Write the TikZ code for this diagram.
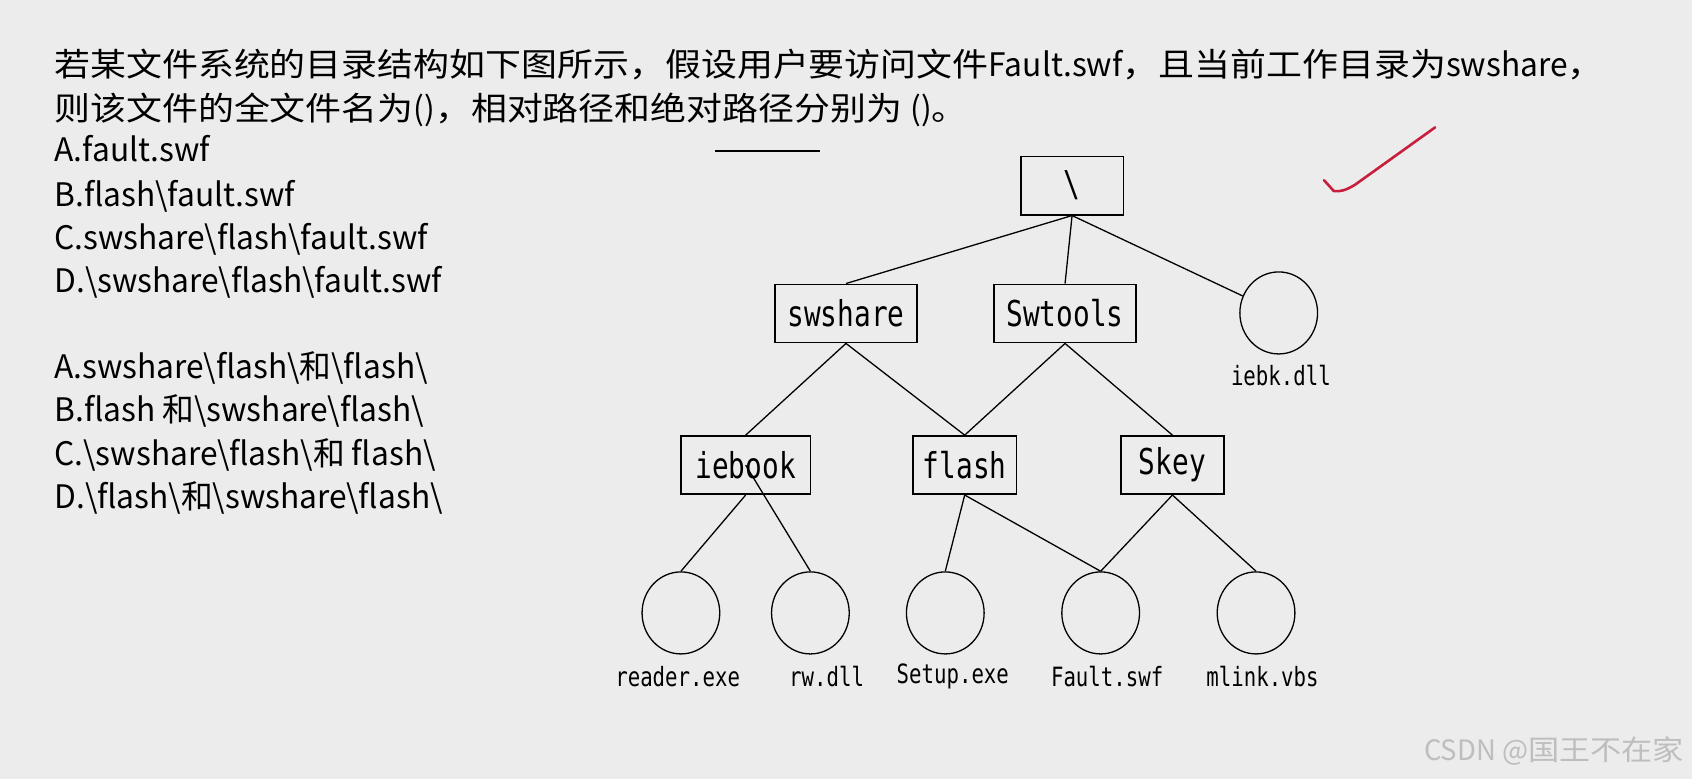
\documentclass[tikz,border=0pt]{standalone}
\usepackage{fontspec}
\usetikzlibrary{shapes.geometric}
\newfontfamily\qfont[FakeStretch=1.11]{Noto Sans CJK SC}
\newfontfamily\latfont[FakeStretch=0.98]{Noto Sans CJK SC}
\newfontfamily\treefont[FakeStretch=0.78]{DejaVu Sans Mono}
\definecolor{bgpaper}{RGB}{236,236,236}
\definecolor{tickred}{RGB}{200,30,60}
\definecolor{markgray}{RGB}{190,190,190}
\newcommand\lat[1]{{\latfont #1}}
\begin{document}
\begin{tikzpicture}[x=0.5pt,y=-0.5pt,
    qtext/.style={anchor=base west,inner sep=0pt,font=\qfont\fontsize{15}{18}\selectfont},
    opttext/.style={anchor=base west,inner sep=0pt,font=\latfont\fontsize{15}{18}\selectfont},
    dirbox/.style={draw,line width=0.75pt,inner sep=0pt,minimum height=27pt,font=\treefont\fontsize{16.5}{18}\selectfont},
    filenode/.style={draw,ellipse,line width=0.6pt,minimum width=36pt,minimum height=38pt,inner sep=0pt},
    fname/.style={inner sep=0pt,font=\treefont\fontsize{12.3}{14}\selectfont},
    edge/.style={line width=0.6pt}]
  \fill[bgpaper] (0,0) rectangle (1568,722);
  \useasboundingbox (0,0) rectangle (1568,722);
  % question
  \node[qtext] (q1) at (50,71) {若某文件系统的目录结构如下图所示，假设用户要访问文件\lat{Fault.swf}，且当前工作目录为\lat{swshare}，};
  \node[qtext] (q2) at (50,112) {则该文件的全文件名为\lat{()}，相对路径和绝对路径分别为 \lat{()}。};
  \node[opttext] (a1) at (50,150) {A.fault.swf};
  \node[opttext] (b1) at (50,191) {B.flash\textbackslash fault.swf};
  \node[opttext] (c1) at (50,231) {C.swshare\textbackslash flash\textbackslash fault.swf};
  \node[opttext] (d1) at (50,271) {D.\textbackslash swshare\textbackslash flash\textbackslash fault.swf};
  \node[opttext] (a2) at (50,351) {A.swshare\textbackslash flash\textbackslash 和\textbackslash flash\textbackslash};
  \node[opttext] (b2) at (50,391) {B.flash 和\textbackslash swshare\textbackslash flash\textbackslash};
  \node[opttext] (c2) at (50,431) {C.\textbackslash swshare\textbackslash flash\textbackslash 和 flash\textbackslash};
  \node[opttext] (d2) at (50,471) {D.\textbackslash flash\textbackslash 和\textbackslash swshare\textbackslash flash\textbackslash};
  \draw[edge] (663,140) -- (760,140);
  % directory tree
  \node[dirbox,minimum width=47.5pt] (root) at (993.5,172) {\textbackslash};
  \node[dirbox,minimum width=66pt] (swshare) at (784,290.5) {swshare};
  \node[dirbox,minimum width=66pt] (swtools) at (987,290.5) {Swtools};
  \node[filenode] (iebk) at (1185,290) {};
  \node[dirbox,minimum width=60pt] (iebook) at (691,431) {iebook};
  \node[dirbox,minimum width=48pt] (flash) at (894,431) {flash};
  \node[dirbox,minimum width=47.5pt] (skey) at (1086.5,431) {Skey};
  \node[filenode] (reader) at (631,568) {};
  \node[filenode] (rw) at (751,568) {};
  \node[filenode] (setup) at (876,568) {};
  \node[filenode] (fault) at (1020,568) {};
  \node[filenode] (mlink) at (1164,568) {};
  \node[fname] (iebkname) at (1187,348) {iebk.dll};
  \node[fname] (readername) at (628,627) {reader.exe};
  \node[fname] (rwname) at (766,627) {rw.dll};
  \node[fname] (setupname) at (883,627) {Setup.exe};
  \node[fname] (faultname) at (1026,627) {Fault.swf};
  \node[fname] (mlinkname) at (1170,627) {mlink.vbs};
  \draw[edge] (root.south) -- (swshare.north);
  \draw[edge] (root.south) -- (swtools.north);
  \draw[edge] (root.south) -- (iebk);
  \draw[edge] (swshare.south) -- (iebook.north);
  \draw[edge] (swshare.south) -- (flash.north);
  \draw[edge] (swtools.south) -- (flash.north);
  \draw[edge] (swtools.south) -- (skey.north);
  \draw[edge] (iebook.south) -- (reader.north);
  \draw[edge] (iebook.center) -- (rw.north);
  \draw[edge] (flash.south) -- (setup.north);
  \draw[edge] (flash.south) -- (fault.north);
  \draw[edge] (skey.south) -- (fault.north);
  \draw[edge] (skey.south) -- (mlink.north);
  % tick and watermark
  \draw[tickred,line width=1.2pt,line cap=round,line join=round]
    (1227,167) -- (1236,177) .. controls (1242,178) and (1248,176) .. (1256,171) -- (1330,118);
  \node[anchor=base east,inner sep=0pt,text=markgray,font=\qfont\fontsize{13}{15}\selectfont] (mark) at (1561,705) {\lat{CSDN @}国王不在家};
\end{tikzpicture}
\end{document}
